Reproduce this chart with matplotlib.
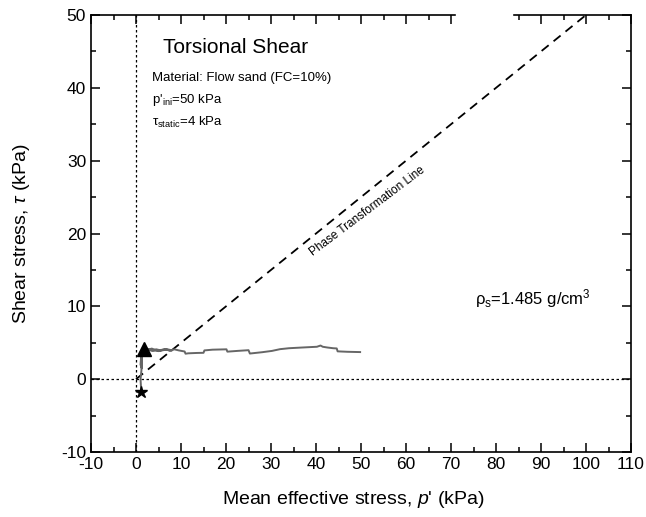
import matplotlib
matplotlib.use("Agg")
import matplotlib.pyplot as plt
from matplotlib.patches import Rectangle
from matplotlib.ticker import MultipleLocator

plt.rcParams['font.family'] = ['Liberation Sans', 'DejaVu Sans']
plt.rcParams['mathtext.fontset'] = 'custom'
plt.rcParams['mathtext.rm'] = 'Liberation Sans'
plt.rcParams['mathtext.it'] = 'Liberation Sans:italic'
plt.rcParams['axes.unicode_minus'] = False

# stress path (p', tau) in kPa
p_eff = [49.8, 47.0, 44.8, 44.6, 43.8, 42.5, 41.5, 41.0, 40.2, 37.0, 34.0,
         32.0, 30.2, 28.0, 25.3, 25.0, 22.5, 20.3, 20.1, 17.0, 15.2, 15.0,
         13.5, 11.6, 11.0, 10.8, 9.5, 8.5, 7.5, 6.5, 5.5, 4.5, 3.5, 2.5, 2.0,
         3.5, 5.0, 7.0, 8.0, 6.0, 4.0, 2.5, 1.5, 1.2, 1.0, 1.3, 1.1, 1.4,
         1.2, 1.0, 1.1, 1.1]
tau = [3.72, 3.76, 3.82, 4.22, 4.25, 4.35, 4.45, 4.62, 4.45, 4.35, 4.25,
       4.12, 3.88, 3.7, 3.52, 3.98, 3.88, 3.78, 4.1, 4.05, 3.95, 3.62,
       3.6, 3.55, 3.5, 3.8, 3.95, 4.1, 3.9, 4.15, 3.95, 4.1, 3.9, 4.1, 3.95,
       4.2, 3.85, 4.1, 3.95, 4.05, 3.9, 4.15, 4.0, 3.5, 2.0, 1.5, 3.0, 3.8,
       1.2, 0.0, -1.0, -1.8]

start_pt = (1.8, 4.2)
end_pt = (1.1, -1.8)

# phase transformation line
ptl_p = [0, 100]
ptl_tau = [0, 50]

fig = plt.figure(figsize=(6.46, 5.17), dpi=100)
ax = fig.add_axes([0.1409, 0.1257, 0.8359, 0.8453])

ax.axvline(0, color='black', ls=(0, (2, 2)), lw=0.9, zorder=1)
ax.axhline(0, color='black', ls=(0, (2, 2)), lw=0.9, zorder=1)

ax.plot(ptl_p, ptl_tau, color='black', ls=(0, (5, 3.5)), lw=1.3, zorder=2)
ax.plot(p_eff, tau, color='#666666', lw=1.4, zorder=3)
ax.plot(*start_pt, marker='^', color='black', ms=10, zorder=4)
ax.plot(*end_pt, marker='*', color='black', ms=9, zorder=4)

ax.set_xlim(-10, 110)
ax.set_ylim(-10, 50)
ax.xaxis.set_major_locator(MultipleLocator(10))
ax.xaxis.set_minor_locator(MultipleLocator(5))
ax.yaxis.set_major_locator(MultipleLocator(10))
ax.yaxis.set_minor_locator(MultipleLocator(5))
ax.tick_params(which='both', direction='in', top=True, right=True,
               labelsize=12.5, width=1.1)
ax.tick_params(which='major', length=6.5)
ax.tick_params(which='minor', length=3.5)
for s in ax.spines.values():
    s.set_linewidth(1.2)

ax.set_xlabel("Mean effective stress, $p$' (kPa)", fontsize=14)
ax.set_ylabel("Shear stress, $\\tau$ (kPa)", fontsize=14)
ax.xaxis.set_label_coords(0.485, -0.085)
ax.yaxis.set_label_coords(-0.11, 0.5)

ax.text(6.0, 45.5, "Torsional Shear", fontsize=15, va='center')
ax.text(3.6, 41.3, "Material: Flow sand (FC=10%)", fontsize=9.5, va='center')
ax.text(3.6, 38.3, "p'$_{\\mathrm{ini}}$=50 kPa", fontsize=9.5, va='center')
ax.text(3.6, 35.2, "τ$_{\\mathrm{static}}$=4 kPa", fontsize=9.5, va='center')
ax.text(51.5, 23.0, "Phase Transformation Line", fontsize=8.5, rotation=37,
        ha='center', va='center')
ax.text(75.3, 11.1, "ρ$_{\\mathrm{s}}$=1.485 g/cm$^3$", fontsize=12,
        va='center')

# gap in the top frame
ax.add_patch(Rectangle((71.2, 0.97), 12.4, 0.05, color='white',
                       transform=ax.get_xaxis_transform(), clip_on=False,
                       zorder=10))

fig.savefig("out.png", dpi=100)
